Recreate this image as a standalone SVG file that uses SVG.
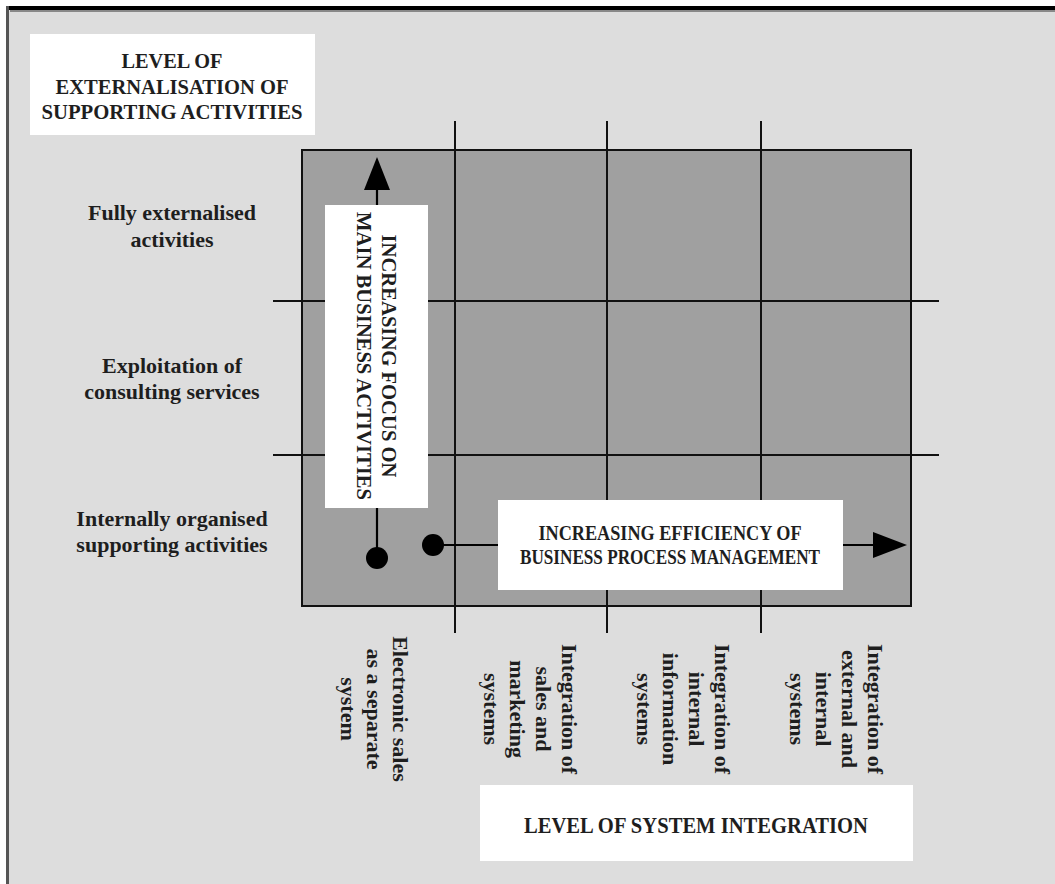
<svg xmlns="http://www.w3.org/2000/svg" width="1055" height="884" viewBox="0 0 1055 884">
<style>
text{font-family:"Liberation Serif","Times New Roman",serif;font-weight:bold;fill:#1e1e1e;font-size:22px}
.c{text-anchor:middle}
.box{fill:#ffffff}
.grid{stroke:#111;stroke-width:2;fill:none}
.conn{stroke:#000;stroke-width:2.2;fill:none}
.head{fill:#000}
</style>
<rect x="0" y="0" width="1055" height="884" fill="#ffffff"/>
<rect x="6" y="6" width="1049" height="878" fill="#dddddd"/>
<rect x="6" y="6" width="1049" height="4" fill="#000"/>
<rect x="10" y="10" width="1045" height="2" fill="#888"/>
<rect x="6" y="6" width="3" height="878" fill="#555"/>

<g id="y-axis-title">
<rect class="box" x="30" y="34" width="285" height="101"/>
<text class="c" x="172" y="68" textLength="101" lengthAdjust="spacingAndGlyphs">LEVEL OF</text>
<text class="c" x="172" y="94" textLength="233" lengthAdjust="spacingAndGlyphs">EXTERNALISATION OF</text>
<text class="c" x="172" y="119" textLength="261" lengthAdjust="spacingAndGlyphs">SUPPORTING ACTIVITIES</text>
</g>

<g id="matrix">
<rect x="302" y="150" width="609" height="456" fill="#a0a0a0" stroke="#111" stroke-width="2"/>
<line class="grid" x1="455" y1="121" x2="455" y2="633"/>
<line class="grid" x1="607" y1="121" x2="607" y2="633"/>
<line class="grid" x1="761" y1="121" x2="761" y2="633"/>
<line class="grid" x1="273" y1="301" x2="939" y2="301"/>
<line class="grid" x1="273" y1="455" x2="939" y2="455"/>
</g>

<g id="row-labels">
<text class="c" x="172" y="220">Fully externalised</text>
<text class="c" x="172" y="247">activities</text>
<text class="c" x="172" y="373">Exploitation of</text>
<text class="c" x="172" y="399">consulting services</text>
<text class="c" x="172" y="526">Internally organised</text>
<text class="c" x="172" y="552">supporting activities</text>
</g>

<g id="connectors">
<line class="conn" x1="377" y1="558" x2="377" y2="188"/>
<line class="conn" x1="433" y1="545" x2="875" y2="545"/>
</g>

<g id="focus-arrow">
<rect class="box" x="325" y="205" width="103" height="303"/>
<polygon class="head" points="364,190 390,190 377,157"/>
<circle cx="377" cy="558" r="11" fill="#000"/>
<text class="c" transform="translate(382,356) rotate(90)" textLength="243" lengthAdjust="spacingAndGlyphs">INCREASING FOCUS ON</text>
<text class="c" transform="translate(357,356) rotate(90)" textLength="288" lengthAdjust="spacingAndGlyphs">MAIN BUSINESS ACTIVITIES</text>
</g>

<g id="efficiency-arrow">
<rect class="box" x="498" y="500" width="345" height="90"/>
<polygon class="head" points="873,532 873,558 907,545"/>
<circle cx="433" cy="545" r="11" fill="#000"/>
<text class="c" x="670" y="540" style="font-size:20px" textLength="263" lengthAdjust="spacingAndGlyphs">INCREASING EFFICIENCY OF</text>
<text class="c" x="670" y="564" style="font-size:20px" textLength="300" lengthAdjust="spacingAndGlyphs">BUSINESS PROCESS MANAGEMENT</text>
</g>

<g id="column-labels">
<text class="c" transform="translate(393,709) rotate(90)">Electronic sales</text>
<text class="c" transform="translate(367,709) rotate(90)">as a separate</text>
<text class="c" transform="translate(341,709) rotate(90)">system</text>
<text class="c" transform="translate(562,709) rotate(90)">Integration of</text>
<text class="c" transform="translate(536,709) rotate(90)">sales and</text>
<text class="c" transform="translate(510,709) rotate(90)">marketing</text>
<text class="c" transform="translate(484,709) rotate(90)">systems</text>
<text class="c" transform="translate(715,709) rotate(90)">Integration of</text>
<text class="c" transform="translate(689,709) rotate(90)">internal</text>
<text class="c" transform="translate(663,709) rotate(90)">information</text>
<text class="c" transform="translate(637,709) rotate(90)">systems</text>
<text class="c" transform="translate(868,709) rotate(90)">Integration of</text>
<text class="c" transform="translate(842,709) rotate(90)">external and</text>
<text class="c" transform="translate(816,709) rotate(90)">internal</text>
<text class="c" transform="translate(790,709) rotate(90)">systems</text>
</g>

<g id="x-axis-title">
<rect class="box" x="480" y="785" width="433" height="76"/>
<text class="c" x="696" y="833" style="font-size:23px" textLength="344" lengthAdjust="spacingAndGlyphs">LEVEL OF SYSTEM INTEGRATION</text>
</g>
</svg>
